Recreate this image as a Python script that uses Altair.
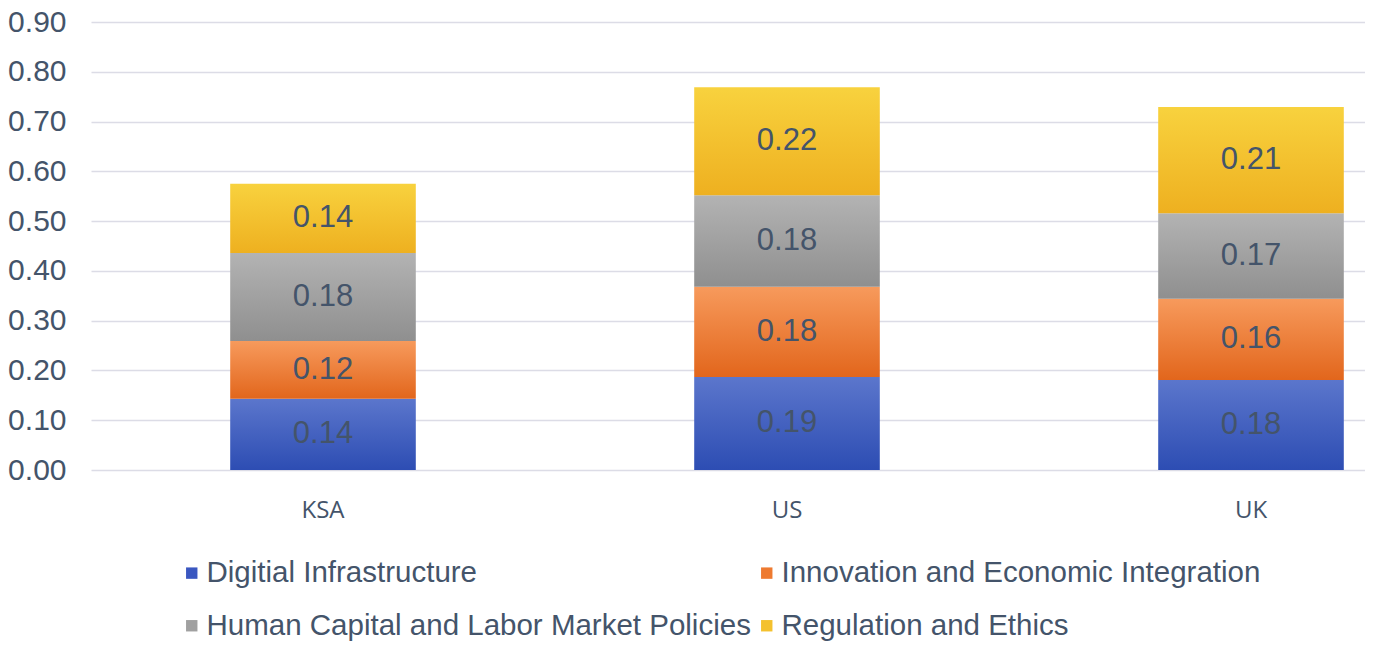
import altair as alt
import pandas as pd

countries = ["KSA", "US", "UK"]
series = [
    "Digitial Infrastructure",
    "Innovation and Economic Integration",
    "Human Capital and Labor Market Policies",
    "Regulation and Ethics",
]
digital = [0.143, 0.187, 0.181]
innovation = [0.116, 0.181, 0.163]
human = [0.177, 0.184, 0.172]
regulation = [0.139, 0.217, 0.213]

grad_colors = [
    ("#5B76CC", "#2D4DB3"),
    ("#F79A5C", "#E2661C"),
    ("#B3B3B3", "#8F8F8F"),
    ("#F8D23E", "#EEB020"),
]
legend_colors = ["#3A57C0", "#EE7A30", "#A0A0A0", "#F4C12E"]

rows = []
for i, vals in enumerate([digital, innovation, human, regulation]):
    for c, v in zip(countries, vals):
        rows.append({"country": c, "series": series[i], "order": i, "value": v})
df = pd.DataFrame(rows)

TXT = "#44546A"
FONT = "Liberation Sans"

xenc = alt.X(
    "country:N",
    sort=countries,
    scale=alt.Scale(range=[0, 1392], paddingInner=0.6, paddingOuter=0.3),
    axis=alt.Axis(title=None, labelAngle=0, ticks=False, domain=False, grid=False,
                  labelFontSize=24, labelColor=TXT, labelFont="Open Sans", labelPadding=28),
)
yscale = alt.Scale(domain=[0, 0.9])

base = alt.Chart(df).transform_stack(
    stack="value", groupby=["country"], as_=["y0", "y1"],
    sort=[alt.SortField("order", order="ascending")],
)

layers = []
for i, s in enumerate(series):
    top, bot = grad_colors[i]
    grad = {
        "gradient": "linear", "x1": 0, "x2": 0, "y1": 0, "y2": 1,
        "stops": [{"offset": 0, "color": top}, {"offset": 1, "color": bot}],
    }
    layers.append(
        base.transform_filter(alt.datum.series == s)
        .mark_bar(color=grad)
        .encode(
            x=xenc,
            y=alt.Y("y0:Q", scale=yscale, axis=alt.Axis(
                title=None, values=[0, 0.1, 0.2, 0.3, 0.4, 0.5, 0.6, 0.7, 0.8, 0.9],
                format=".2f", ticks=False, domain=False, labelFontSize=30,
                labelColor=TXT, labelFont=FONT, labelPadding=25,
                gridColor="#DCDCE6", gridWidth=1.5)),
            y2="y1:Q",
        )
    )

legend_layer = base.mark_bar(opacity=0).encode(
    x=xenc,
    y=alt.Y("y0:Q", scale=yscale),
    y2="y1:Q",
    color=alt.Color(
        "series:N",
        sort=series,
        scale=alt.Scale(domain=series, range=legend_colors),
        legend=alt.Legend(
            title=None, orient="none", legendX=86, legendY=536,
            columns=2, direction="horizontal", symbolType="square", symbolSize=130,
            symbolOpacity=1, symbolStrokeWidth=0, labelFontSize=29.5, labelFont=FONT,
            labelColor=TXT, labelLimit=800, rowPadding=22, columnPadding=1,
            labelOffset=0,
        ),
    ),
)

text_layer = base.transform_calculate(
    mid="(datum.y0 + datum.y1) / 2"
).mark_text(fontSize=31, font=FONT, color=TXT).encode(
    x=xenc,
    y=alt.Y("mid:Q", scale=yscale),
    text=alt.Text("value:Q", format=".2f"),
)

chart = alt.layer(*layers, legend_layer, text_layer).properties(
    width=1274, height=448,
    autosize=alt.AutoSizeParams(type="none"),
    padding={"left": 83, "top": 14, "right": 0, "bottom": 172},
).configure_view(stroke=None)

chart.save("out.html", embed_options={"renderer": "svg", "actions": False})
